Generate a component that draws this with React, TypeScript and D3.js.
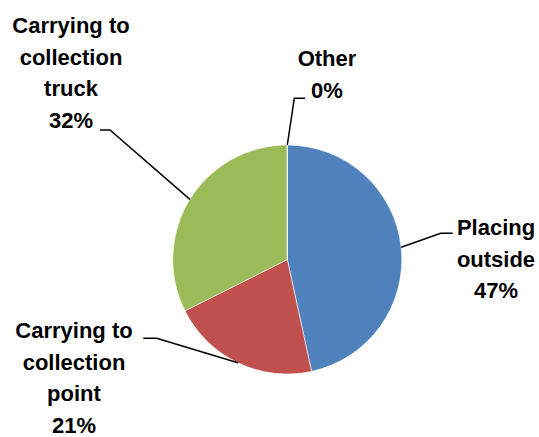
import React from "react";
import * as d3 from "d3";

const categories = ["Placing outside", "Carrying to collection point", "Carrying to collection truck", "Other"];
const values = [46.6, 21.0, 32.4, 0];
const percentLabels = ["47%", "21%", "32%", "0%"];
const labelLines = [
  ["Placing", "outside"],
  ["Carrying to", "collection", "point"],
  ["Carrying to", "collection", "truck"],
  ["Other"],
];
const colors = ["#4F81BD", "#C0504D", "#9BBB59", "#8064A2"];

const W = 539;
const H = 437;
const CX = 287.3;
const CY = 259.5;
const R = 114.5;
const LINE_H = 31.5;

// label layout: text center x, first baseline y, elbow point, end of horizontal segment
const layout = [
  { tx: 496, ty: 235, elbow: [440.7, 233.3], end: [452.7, 233.3] },
  { tx: 74, ty: 338, elbow: [156.7, 338.3], end: [143.3, 338.3] },
  { tx: 71, ty: 33, elbow: [110, 130], end: [100, 130] },
  { tx: 327, ty: 66, elbow: [294.3, 98.3], end: [305, 98.3] },
];

export default function App() {
  const pie = d3.pie<number>().sort(null).startAngle(0).endAngle(2 * Math.PI).value((d) => d);
  const arcs = pie(values);
  const arc = d3.arc<d3.PieArcDatum<number>>().innerRadius(0).outerRadius(R);

  return (
    <svg width={W} height={H} style={{ position: "absolute", left: 0, top: 0 }}>
      <rect width={W} height={H} fill="#fff" />
      <g transform={`translate(${CX},${CY})`}>
        {arcs.map((a, i) => (
          <path key={i} d={arc(a) || ""} fill={colors[i]} stroke="#fff" strokeWidth={0.6} />
        ))}
      </g>
      {arcs.map((a, i) => {
        const mid = (a.startAngle + a.endAngle) / 2;
        const px = CX + R * Math.sin(mid);
        const py = CY - R * Math.cos(mid);
        const L = layout[i];
        const lines = [...labelLines[i], percentLabels[i]];
        return (
          <g key={i}>
            <polyline
              points={`${px},${py} ${L.elbow[0]},${L.elbow[1]} ${L.end[0]},${L.end[1]}`}
              fill="none"
              stroke="#000"
              strokeWidth={1.5}
            />
            <text
              x={L.tx}
              y={L.ty}
              textAnchor="middle"
              fontFamily="'Liberation Sans', Arial, sans-serif"
              fontWeight="bold"
              fontSize={22}
              fill="#000"
            >
              {lines.map((t, j) => (
                <tspan key={j} x={L.tx} y={L.ty + j * LINE_H}>
                  {t}
                </tspan>
              ))}
            </text>
          </g>
        );
      })}
    </svg>
  );
}
